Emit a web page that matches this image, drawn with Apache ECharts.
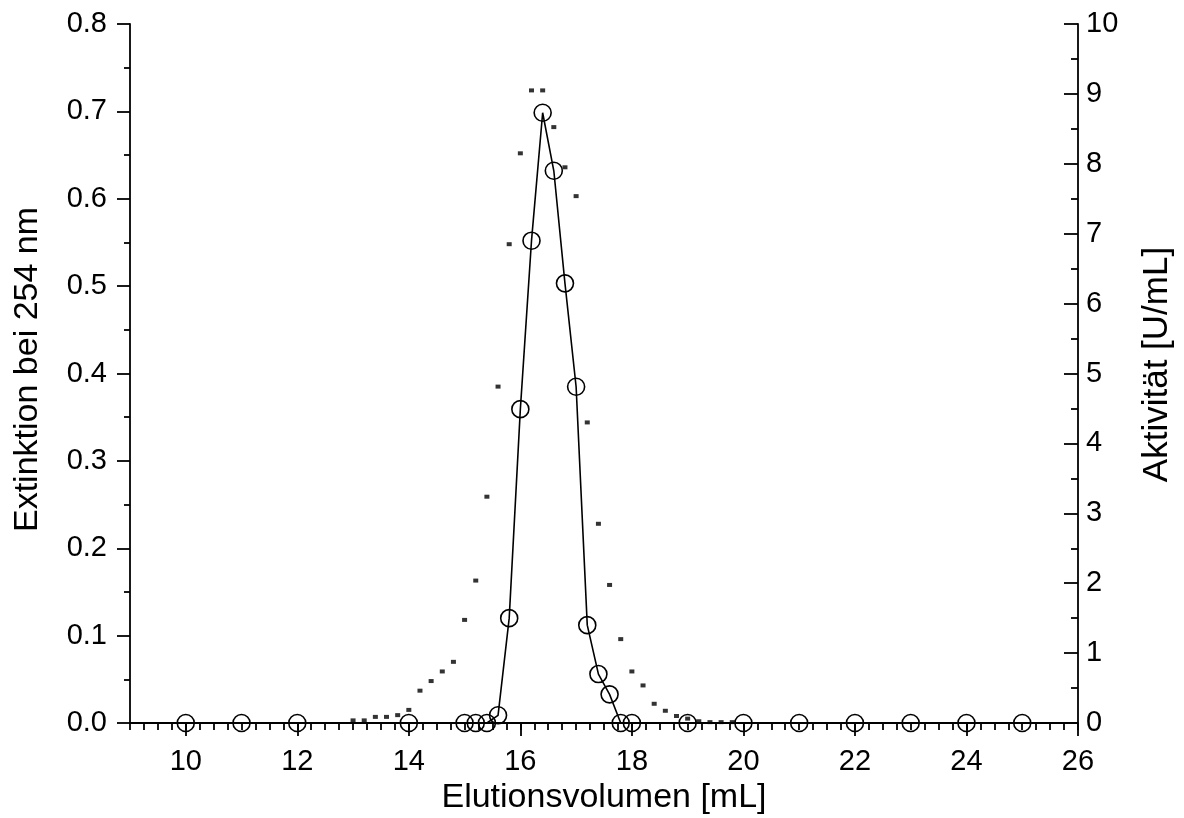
<!DOCTYPE html>
<html>
<head>
<meta charset="utf-8">
<script src="https://cdn.jsdelivr.net/npm/echarts@6/dist/echarts.min.js"></script>
<style>
  html, body { margin: 0; padding: 0; background: #fff; }
  #chart { width: 1184px; height: 818px; }
</style>
</head>
<body>
<div id="chart"></div>
<script>
// Elution volume of the collected fractions [mL] and their activity [U/mL]
const activityVolume = [10, 11, 12, 14, 15, 15.2, 15.4, 15.6, 15.8, 16, 16.2, 16.4, 16.6, 16.8, 17, 17.2, 17.4, 17.6, 17.8, 18, 19, 20, 21, 22, 23, 24, 25];
const activityValues = [0, 0, 0, 0, 0, 0, 0, 0.11, 1.50, 4.49, 6.90, 8.73, 7.90, 6.29, 4.81, 1.40, 0.70, 0.41, 0, 0, 0, 0, 0, 0, 0, 0, 0];

// UV trace: extinction at 254 nm
const uvVolume = [13.0, 13.2, 13.4, 13.6, 13.8, 14.0, 14.2, 14.4, 14.6, 14.8, 15.0, 15.2, 15.4, 15.6, 15.8, 16.0, 16.2, 16.4, 16.6, 16.8, 17.0, 17.2, 17.4, 17.6, 17.8, 18.0, 18.2, 18.4, 18.6, 18.8, 19.0, 19.2, 19.4, 19.6, 19.8];
const uvValues = [0.003, 0.003, 0.007, 0.007, 0.009, 0.015, 0.037, 0.048, 0.059, 0.070, 0.118, 0.163, 0.259, 0.385, 0.548, 0.652, 0.724, 0.724, 0.682, 0.636, 0.603, 0.344, 0.228, 0.158, 0.096, 0.059, 0.043, 0.022, 0.014, 0.008, 0.005, 0.002, 0.001, 0.001, 0.001];

// Axis ticks
const xLabelValues = [10, 12, 14, 16, 18, 20, 22, 24, 26];

const FONT = '"Liberation Sans", Arial, sans-serif';
const black = '#000';
const axisWidth = 1.8;

const chart = echarts.init(document.getElementById('chart'), null, { renderer: 'canvas' });

chart.setOption({
  backgroundColor: '#fff',
  animation: false,
  textStyle: { fontFamily: FONT, color: black },
  grid: { left: 130, right: 106, top: 24, bottom: 95, containLabel: false, outerBoundsMode: 'none' },
  xAxis: [
    {
      type: 'value',
      min: 9, max: 26, interval: 1,
      position: 'bottom',
      name: 'Elutionsvolumen [mL]',
      nameLocation: 'middle',
      nameGap: 56,
      nameTextStyle: { fontFamily: FONT, fontSize: 34, color: black },
      axisLine: { show: true, onZero: false, lineStyle: { color: black, width: axisWidth } },
      axisTick: { show: true, customValues: xLabelValues, length: 13, lineStyle: { color: black, width: axisWidth } },
      axisLabel: { show: true, customValues: xLabelValues, fontFamily: FONT, fontSize: 29, color: black, margin: 24 },
      splitLine: { show: false }
    },
    {
      // minor ticks every 0.25 mL
      type: 'value',
      min: 9, max: 26, interval: 0.25,
      position: 'bottom',
      axisLine: { show: false },
      axisTick: { show: true, length: 7, lineStyle: { color: black, width: axisWidth } },
      axisLabel: { show: false },
      splitLine: { show: false }
    }
  ],
  yAxis: [
    {
      type: 'value',
      min: 0, max: 0.8, interval: 0.1,
      position: 'left',
      name: 'Extinktion bei 254 nm',
      nameLocation: 'middle',
      nameGap: 85,
      nameTextStyle: { fontFamily: FONT, fontSize: 34, color: black, padding: [0, 0, 0, 8] },
      axisLine: { show: true, onZero: false, lineStyle: { color: black, width: axisWidth } },
      axisTick: { show: true, length: 13, lineStyle: { color: black, width: axisWidth } },
      minorTick: { show: true, splitNumber: 2, length: 6, lineStyle: { color: black, width: axisWidth } },
      axisLabel: { fontFamily: FONT, fontSize: 29, color: black, margin: 23, formatter: v => v.toFixed(1) },
      splitLine: { show: false },
      minorSplitLine: { show: false }
    },
    {
      type: 'value',
      min: 0, max: 10, interval: 1,
      position: 'right',
      name: 'Aktivität [U/mL]',
      nameLocation: 'middle',
      nameGap: 62,
      nameTextStyle: { fontFamily: FONT, fontSize: 35, color: black, padding: [0, 0, 0, 18] },
      axisLine: { show: true, onZero: false, lineStyle: { color: black, width: axisWidth } },
      axisTick: { show: true, inside: true, length: 14, lineStyle: { color: black, width: axisWidth } },
      minorTick: { show: true, splitNumber: 2, length: 7, lineStyle: { color: black, width: axisWidth } },
      axisLabel: { fontFamily: FONT, fontSize: 29, color: black, margin: 8 },
      splitLine: { show: false },
      minorSplitLine: { show: false }
    }
  ],
  series: [
    {
      name: 'Extinktion',
      type: 'scatter',
      xAxisIndex: 0,
      yAxisIndex: 0,
      symbol: 'rect',
      symbolSize: [5, 4],
      itemStyle: { color: black },
      data: uvVolume.map((v, i) => [v, uvValues[i]])
    },
    {
      name: 'Aktivität',
      type: 'line',
      xAxisIndex: 0,
      yAxisIndex: 1,
      symbol: 'circle',
      symbolSize: 17,
      showAllSymbol: true,
      lineStyle: { color: black, width: 1.6 },
      itemStyle: { color: 'rgba(0,0,0,0)', borderColor: black, borderWidth: 1.6 },
      data: activityVolume.map((v, i) => [v, activityValues[i]])
    }
  ]
});
</script>
</body>
</html>
